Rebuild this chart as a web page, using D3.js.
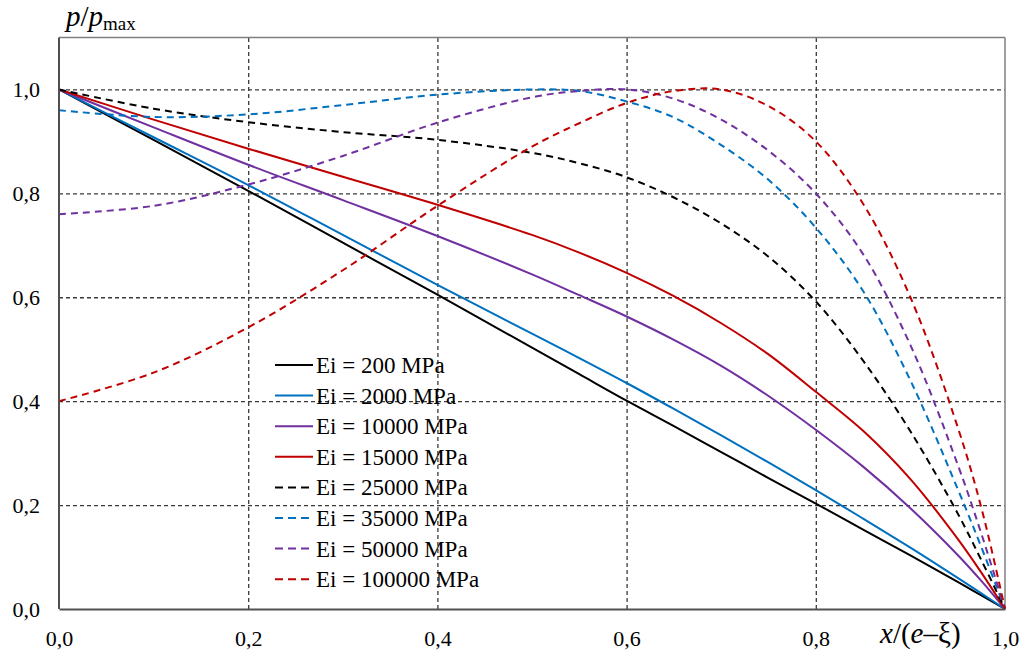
<!DOCTYPE html>
<html>
<head>
<meta charset="utf-8">
<script src="https://cdn.jsdelivr.net/npm/d3@7/dist/d3.min.js"></script>
<style>
  html, body { margin: 0; padding: 0; background: #fff; }
  svg { display: block; }
  text { font-family: "Liberation Serif", "Times New Roman", serif; fill: #000; }
</style>
</head>
<body>
<svg id="chart" width="1022" height="657"></svg>
<script>
// ---- data ----
const xValues = [0, 0.1, 0.2, 0.3, 0.4, 0.5, 0.55, 0.6, 0.65, 0.7, 0.75, 0.8, 0.85, 0.9, 0.95, 0.975, 1.0];
const ei200    = [1, 0.903, 0.805, 0.705, 0.605, 0.503, 0.452, 0.401, 0.352, 0.302, 0.252, 0.203, 0.153, 0.103, 0.052, 0.026, 0];
const ei2000   = [1, 0.908, 0.816, 0.720, 0.624, 0.530, 0.483, 0.435, 0.385, 0.334, 0.282, 0.229, 0.174, 0.118, 0.060, 0.030, 0];
const ei10000  = [1, 0.927, 0.855, 0.787, 0.718, 0.644, 0.604, 0.563, 0.518, 0.468, 0.410, 0.345, 0.274, 0.194, 0.104, 0.054, 0];
const ei15000  = [1, 0.942, 0.886, 0.832, 0.778, 0.720, 0.686, 0.647, 0.602, 0.550, 0.490, 0.418, 0.343, 0.250, 0.135, 0.070, 0];
const ei25000  = [1, 0.963, 0.937, 0.918, 0.903, 0.878, 0.858, 0.831, 0.792, 0.742, 0.678, 0.592, 0.478, 0.342, 0.184, 0.094, 0];
const ei35000  = [0.960, 0.947, 0.952, 0.970, 0.990, 1.000, 0.997, 0.977, 0.946, 0.893, 0.826, 0.734, 0.612, 0.440, 0.231, 0.119, 0];
const ei50000  = [0.760, 0.776, 0.817, 0.872, 0.936, 0.985, 0.997, 1.000, 0.982, 0.942, 0.882, 0.800, 0.683, 0.508, 0.278, 0.145, 0];
const ei100000 = [0.400, 0.455, 0.542, 0.652, 0.776, 0.890, 0.935, 0.974, 0.997, 1.000, 0.968, 0.900, 0.780, 0.600, 0.350, 0.195, 0];

const seriesNames  = ["Ei = 200 MPa", "Ei = 2000 MPa", "Ei = 10000 MPa", "Ei = 15000 MPa",
                      "Ei = 25000 MPa", "Ei = 35000 MPa", "Ei = 50000 MPa", "Ei = 100000 MPa"];
const seriesValues = [ei200, ei2000, ei10000, ei15000, ei25000, ei35000, ei50000, ei100000];
const seriesColors = ["#000000", "#0070C0", "#7030A0", "#C00000", "#000000", "#0070C0", "#7030A0", "#C00000"];
const seriesDashed = [false, false, false, false, true, true, true, true];

const xTicks = [0, 0.2, 0.4, 0.6, 0.8, 1.0];
const yTicks = [0, 0.2, 0.4, 0.6, 0.8, 1.0];

// ---- layout ----
const mLeft = 59, mRight = 1005, mTop = 37.5, mBottom = 609;
const svg = d3.select("#chart");
const x = d3.scaleLinear().domain([0, 1]).range([mLeft, mRight]);
const y = d3.scaleLinear().domain([0, 1.1]).range([mBottom, mTop]);
const fmt = d => d3.format(".1f")(d).replace(".", ",");

// grid
const gridX = svg.append("g").attr("transform", `translate(0,${mBottom})`)
  .call(d3.axisBottom(x).tickValues(xTicks.filter(d => d > 0 && d < 1)).tickSize(-(mBottom - mTop)).tickFormat(""));
gridX.select(".domain").remove();
gridX.selectAll("line").attr("stroke", "#3a3a3a").attr("stroke-width", 1.3).attr("stroke-dasharray", "4,3");

const gridY = svg.append("g").attr("transform", `translate(${mLeft},0)`)
  .call(d3.axisLeft(y).tickValues(yTicks.filter(d => d > 0)).tickSize(-(mRight - mLeft)).tickFormat(""));
gridY.select(".domain").remove();
gridY.selectAll("line").attr("stroke", "#3a3a3a").attr("stroke-width", 1.3).attr("stroke-dasharray", "4,3");

// frame: top & right light
svg.append("line").attr("x1", mLeft).attr("x2", mRight).attr("y1", mTop).attr("y2", mTop)
  .attr("stroke", "#7f7f7f").attr("stroke-width", 1.5);
svg.append("line").attr("x1", mRight).attr("x2", mRight).attr("y1", mTop).attr("y2", mBottom)
  .attr("stroke", "#7f7f7f").attr("stroke-width", 1.5);

// curves
const line = d3.line().x(d => x(d[0])).y(d => y(d[1])).curve(d3.curveCatmullRom.alpha(0.5));
seriesValues.forEach((vals, i) => {
  svg.append("path")
    .datum(xValues.map((xv, j) => [xv, vals[j]]))
    .attr("d", line)
    .attr("fill", "none")
    .attr("stroke", seriesColors[i])
    .attr("stroke-width", 2)
    .attr("stroke-dasharray", seriesDashed[i] ? "7,5" : null);
});

// axes (left & bottom, dark)
const axX = svg.append("g").attr("transform", `translate(0,${mBottom})`)
  .call(d3.axisBottom(x).tickValues(xTicks).tickSize(0).tickPadding(21).tickFormat(fmt));
axX.select(".domain").attr("stroke", "#505050").attr("stroke-width", 2);
axX.selectAll("text").attr("font-size", 22).attr("font-family", "Liberation Serif");

const axY = svg.append("g").attr("transform", `translate(${mLeft},0)`)
  .call(d3.axisLeft(y).tickValues(yTicks).tickSize(0).tickPadding(19).tickFormat(fmt));
axY.select(".domain").attr("stroke", "#505050").attr("stroke-width", 2).attr("d", `M0,${mTop}V${mBottom}`);
axY.selectAll("text").attr("font-size", 22).attr("font-family", "Liberation Serif");

// axis titles
const yt = svg.append("text").attr("x", 66).attr("y", 26).attr("font-size", 29);
yt.append("tspan").attr("font-style", "italic").text("p");
yt.append("tspan").text("/");
yt.append("tspan").attr("font-style", "italic").text("p");
yt.append("tspan").attr("font-size", 19).attr("dy", 4).text("max");

const xt = svg.append("text").attr("x", 880).attr("y", 643).attr("font-size", 29);
xt.append("tspan").attr("font-style", "italic").text("x");
xt.append("tspan").text("/(");
xt.append("tspan").attr("font-style", "italic").text("e");
xt.append("tspan").text("–ξ)");

// legend
const lg = svg.append("g");
seriesNames.forEach((name, i) => {
  const cy = 365 + i * 30.6;
  lg.append("line").attr("x1", 275).attr("x2", 313).attr("y1", cy).attr("y2", cy)
    .attr("stroke", seriesColors[i]).attr("stroke-width", 2)
    .attr("stroke-dasharray", seriesDashed[i] ? "8,5" : null);
  lg.append("text").attr("x", 316).attr("y", cy).attr("dy", "0.35em")
    .attr("font-size", 23).text(name);
});
</script>
</body>
</html>
